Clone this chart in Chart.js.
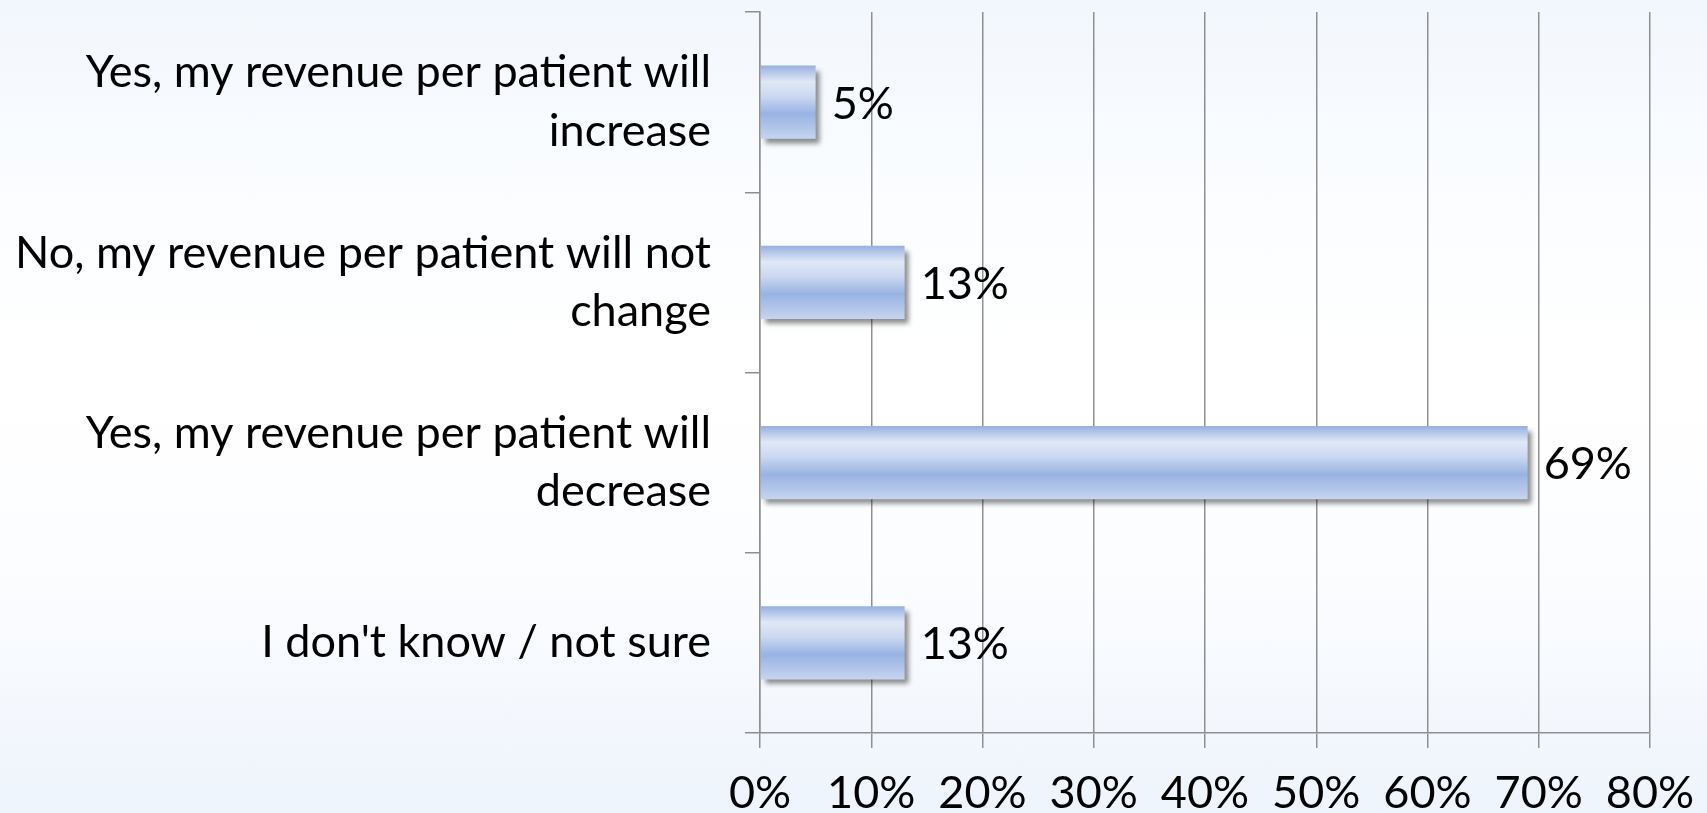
<!DOCTYPE html>
<html>
<head>
<meta charset="utf-8">
<script src="https://cdn.jsdelivr.net/npm/chart.js@4.4.1/dist/chart.umd.min.js"></script>
<style>
    html, body {
        margin: 0;
        padding: 0;
        width: 1707px;
        height: 813px;
        overflow: hidden;
        background: linear-gradient(to bottom, #f2f7fd 0%, #fbfdff 25%, #ffffff 45%, #fcfdff 70%, #eef4fc 100%);
    }
    #wrap {
        position: relative;
        width: 1707px;
        height: 813px;
    }
</style>
</head>
<body>
<div id="wrap">
    <canvas id="revenueChart" width="1707" height="813"></canvas>
</div>
<script>
const categories = [
    ['Yes, my revenue per patient will', 'increase'],
    ['No, my revenue per patient will not', 'change'],
    ['Yes, my revenue per patient will', 'decrease'],
    ["I don't know / not sure"]
];
const percentages = [5, 13, 69, 13];
const tickValues = [0, 10, 20, 30, 40, 50, 60, 70, 80];

const FONT_FAMILY = 'Lato, "Open Sans", sans-serif';
const FONT_SIZE = 45;
const GRID_COLOR = '#8f8f8f';

function barGradient(context) {
    const chart = context.chart;
    const yScale = chart.scales.y;
    if (!yScale || context.dataIndex === undefined) return '#a9bfe8';
    const center = yScale.getPixelForValue(context.dataIndex);
    const band = yScale.height / categories.length;
    const h = band * 0.405;
    const top = center - h / 2;
    if (!Number.isFinite(top) || !Number.isFinite(h) || h <= 0) return '#a9bfe8';
    const g = chart.ctx.createLinearGradient(0, top, 0, top + h);
    g.addColorStop(0, '#97b0e1');
    g.addColorStop(0.22, '#e0e8f6');
    g.addColorStop(0.42, '#cbd8f0');
    g.addColorStop(0.66, '#98b3e3');
    g.addColorStop(1, '#c6d4ef');
    return g;
}

const barShadow = {
    id: 'barShadow',
    beforeDatasetsDraw(chart) {
        const ctx = chart.ctx;
        ctx.save();
        ctx.shadowColor = 'rgba(0, 0, 0, 0.45)';
        ctx.shadowBlur = 5;
        ctx.shadowOffsetX = 4;
        ctx.shadowOffsetY = 5;
    },
    afterDatasetsDraw(chart) {
        chart.ctx.restore();
    }
};

const valueLabels = {
    id: 'valueLabels',
    afterDraw(chart) {
        const ctx = chart.ctx;
        const meta = chart.getDatasetMeta(0);
        ctx.save();
        ctx.font = FONT_SIZE + 'px ' + FONT_FAMILY;
        ctx.fillStyle = '#000000';
        ctx.textAlign = 'left';
        ctx.textBaseline = 'middle';
        meta.data.forEach((bar, i) => {
            ctx.fillText(percentages[i] + '%', bar.x + 16, bar.y + 2);
        });
        ctx.restore();
    }
};

const ctx = document.getElementById('revenueChart').getContext('2d');
new Chart(ctx, {
    type: 'bar',
    data: {
        labels: categories,
        datasets: [{
            data: percentages,
            backgroundColor: barGradient,
            borderWidth: 0,
            barPercentage: 0.405,
            categoryPercentage: 1
        }]
    },
    options: {
        indexAxis: 'y',
        responsive: false,
        animation: false,
        devicePixelRatio: 1,
        layout: {
            padding: { top: 12, right: 57, left: 0, bottom: 0 }
        },
        plugins: {
            legend: { display: false },
            tooltip: { enabled: false }
        },
        scales: {
            x: {
                min: 0,
                max: 80,
                afterBuildTicks(scale) {
                    scale.ticks = tickValues.map(v => ({ value: v }));
                },
                afterFit(scale) {
                    scale.height = 80;
                    scale.paddingLeft = 0;
                    scale.paddingRight = 0;
                },
                grid: {
                    color: GRID_COLOR,
                    lineWidth: 1.5,
                    tickLength: 15,
                    drawTicks: true
                },
                border: { color: GRID_COLOR, width: 1.5 },
                ticks: {
                    padding: 18,
                    color: '#000000',
                    font: { family: FONT_FAMILY, size: FONT_SIZE },
                    maxRotation: 0,
                    callback: function(value) {
                        return value + '%';
                    }
                }
            },
            y: {
                afterFit(scale) {
                    scale.width = 760;
                    scale.paddingTop = 0;
                    scale.paddingBottom = 0;
                },
                grid: {
                    offset: true,
                    drawOnChartArea: false,
                    drawTicks: true,
                    tickLength: 15,
                    color: GRID_COLOR,
                    lineWidth: 1.5
                },
                border: { color: GRID_COLOR, width: 1.5 },
                ticks: {
                    padding: 34,
                    color: '#000000',
                    font: { family: FONT_FAMILY, size: FONT_SIZE, lineHeight: 1.3 }
                }
            }
        }
    },
    plugins: [barShadow, valueLabels]
});
</script>
</body>
</html>
